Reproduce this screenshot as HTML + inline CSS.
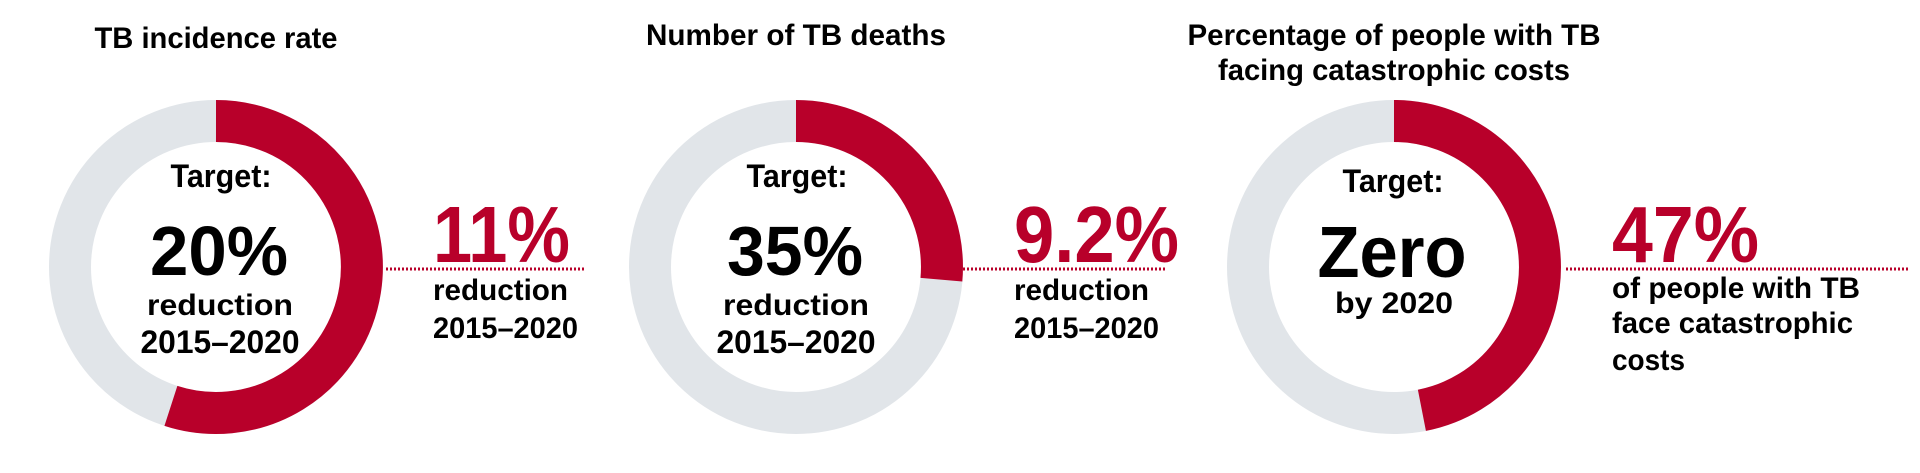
<!DOCTYPE html>
<html><head><meta charset="utf-8"><style>
html,body{margin:0;padding:0;background:#fff;}
svg{display:block;}
text{font-family:"Liberation Sans",Arial,sans-serif;font-weight:bold;fill:#000;}
.r{fill:#b8002a;}
</style></head><body>
<svg width="1920" height="473" viewBox="0 0 1920 473">
<g fill="none" stroke-width="42">
<circle cx="216" cy="267" r="146" stroke="#e1e5e9"/>
<path d="M216 121 A146 146 0 1 1 170.9 405.9" stroke="#b8002a"/>
<circle cx="796" cy="267" r="146" stroke="#e1e5e9"/>
<path d="M796 121 A146 146 0 0 1 941.4 279.7" stroke="#b8002a"/>
<circle cx="1394" cy="267" r="146" stroke="#e1e5e9"/>
<path d="M1394 121 A146 146 0 0 1 1421.9 410.3" stroke="#b8002a"/>
</g>
<g stroke="#b8002a" stroke-width="3" stroke-dasharray="2 2">
<line x1="386" y1="269" x2="585" y2="269"/>
<line x1="963" y1="269" x2="1165" y2="269"/>
<line x1="1566" y1="269" x2="1910" y2="269"/>
</g>
<g text-anchor="middle">
<text x="216" y="48" font-size="30" textLength="243" lengthAdjust="spacingAndGlyphs">TB incidence rate</text>
<text x="796" y="45" font-size="30" textLength="300" lengthAdjust="spacingAndGlyphs">Number of TB deaths</text>
<text x="1394" y="45" font-size="30" textLength="413" lengthAdjust="spacingAndGlyphs">Percentage of people with TB</text>
<text x="1394" y="80" font-size="30" textLength="352" lengthAdjust="spacingAndGlyphs">facing catastrophic costs</text>

<text x="221" y="187" font-size="32" textLength="101" lengthAdjust="spacingAndGlyphs">Target:</text>
<text x="219" y="275" font-size="70" textLength="138" lengthAdjust="spacingAndGlyphs">20%</text>
<text x="220" y="315" font-size="30" textLength="146" lengthAdjust="spacingAndGlyphs">reduction</text>
<text x="220" y="353" font-size="32" textLength="159" lengthAdjust="spacingAndGlyphs">2015–2020</text>

<text x="797" y="187" font-size="32" textLength="101" lengthAdjust="spacingAndGlyphs">Target:</text>
<text x="795" y="275" font-size="70" textLength="136" lengthAdjust="spacingAndGlyphs">35%</text>
<text x="796" y="315" font-size="30" textLength="146" lengthAdjust="spacingAndGlyphs">reduction</text>
<text x="796" y="353" font-size="32" textLength="159" lengthAdjust="spacingAndGlyphs">2015–2020</text>

<text x="1393" y="192" font-size="32" textLength="101" lengthAdjust="spacingAndGlyphs">Target:</text>
<text x="1392" y="277" font-size="72" textLength="149" lengthAdjust="spacingAndGlyphs">Zero</text>
<text x="1394" y="313" font-size="30" textLength="118" lengthAdjust="spacingAndGlyphs">by 2020</text>
</g>
<text class="r" x="433" y="262" font-size="80" textLength="137" lengthAdjust="spacingAndGlyphs">11%</text>
<text x="433" y="300" font-size="30" textLength="135" lengthAdjust="spacingAndGlyphs">reduction</text>
<text x="433" y="338" font-size="30" textLength="145" lengthAdjust="spacingAndGlyphs">2015–2020</text>

<text class="r" x="1014" y="262" font-size="80" textLength="165" lengthAdjust="spacingAndGlyphs">9.2%</text>
<text x="1014" y="300" font-size="30" textLength="135" lengthAdjust="spacingAndGlyphs">reduction</text>
<text x="1014" y="338" font-size="30" textLength="145" lengthAdjust="spacingAndGlyphs">2015–2020</text>

<text class="r" x="1612" y="262" font-size="80" textLength="147" lengthAdjust="spacingAndGlyphs">47%</text>
<text x="1612" y="298" font-size="30" textLength="248" lengthAdjust="spacingAndGlyphs">of people with TB</text>
<text x="1612" y="333" font-size="30" textLength="241" lengthAdjust="spacingAndGlyphs">face catastrophic</text>
<text x="1612" y="370" font-size="30" textLength="73" lengthAdjust="spacingAndGlyphs">costs</text>
</svg>
</body></html>
